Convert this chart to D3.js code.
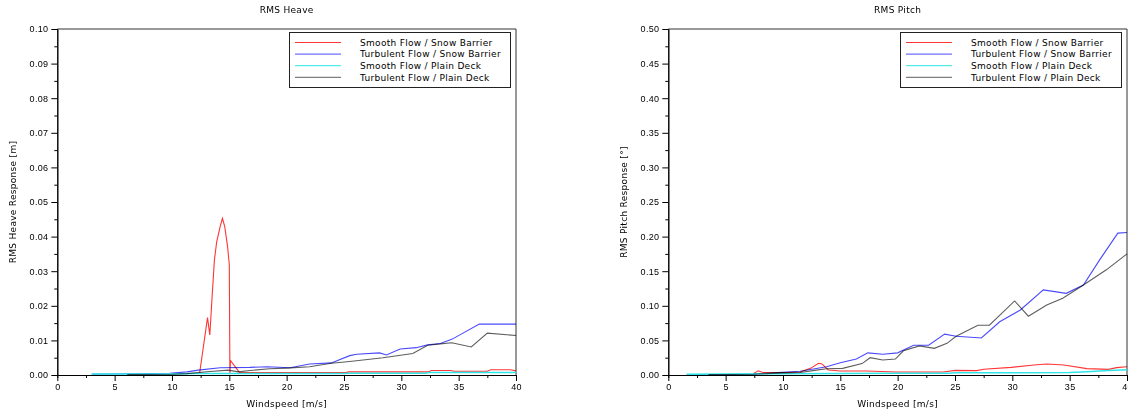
<!DOCTYPE html>
<html>
<head>
<meta charset="utf-8">
<script src="https://cdn.jsdelivr.net/npm/d3@7"></script>
<style>
    body { margin: 0; background: #fff; }
    svg { display: block; font-family: "DejaVu Sans", sans-serif; }
    text { letter-spacing: 0.3px; }
    .domain { stroke: #000; }
    .tick line { stroke: #000; }
    .tick text { font-size: 9px; fill: #000; }
</style>
</head>
<body>
<svg id="graphic"></svg>
<script>

// Series names (legend order)
const seriesNames = [
    "Smooth Flow / Snow Barrier",
    "Turbulent Flow / Snow Barrier",
    "Smooth Flow / Plain Deck",
    "Turbulent Flow / Plain Deck"
]

// x ticks shared by both charts
const xTicks = [0, 5, 10, 15, 20, 25, 30, 35, 40]
const heaveTicks = [0, 0.01, 0.02, 0.03, 0.04, 0.05, 0.06, 0.07, 0.08, 0.09, 0.10]
const pitchTicks = [0, 0.05, 0.10, 0.15, 0.20, 0.25, 0.30, 0.35, 0.40, 0.45, 0.50]

// RMS Heave data [windspeed, response]
const heaveSmoothSnow = [[12.4,0.0003],[13.1,0.0166],[13.3,0.0116],[13.5,0.0226],[13.7,0.0332],[13.9,0.0385],[14.2,0.0429],[14.4,0.0453],[14.6,0.0429],[14.85,0.0371],[15.0,0.0318],[15.05,0.0004],[15.1,0.0042],[15.9,0.0007],[25.2,0.0007],[25.4,0.0009],[32.4,0.0009],[32.6,0.0013],[34.3,0.0013],[34.6,0.0011],[37.5,0.0011],[37.8,0.0015],[39.5,0.0015],[40,0.0012]]
const heaveTurbSnow = [[3,0.0002],[9.8,0.0005],[11.3,0.0009],[12.3,0.0014],[14.2,0.0021],[16.8,0.0022],[18.3,0.0024],[20.3,0.0021],[22,0.0032],[23.9,0.0035],[25.5,0.0056],[26.1,0.006],[28.1,0.0064],[28.7,0.0058],[29.9,0.0075],[31.3,0.0079],[32.3,0.0087],[33.4,0.0091],[34.4,0.0103],[36.8,0.0147],[40,0.0147]]
const heaveSmoothPlain = [[3,0.0003],[10,0.0003],[12,0.0004],[15,0.0004],[25,0.0004],[25.5,0.0005],[32,0.0005],[32.5,0.0007],[40,0.0007]]
const heaveTurbPlain = [[6.1,0.0001],[10,0.0002],[11.3,0.0004],[13.3,0.001],[14.9,0.0014],[15.8,0.0009],[16.8,0.0013],[18.5,0.0018],[20,0.002],[22,0.0024],[23.9,0.0034],[25.5,0.0039],[28.4,0.005],[31,0.0062],[32.3,0.0086],[33.4,0.009],[34.4,0.0093],[36.1,0.0081],[37.5,0.0121],[40,0.0114]]

// RMS Pitch data [windspeed, response]
const pitchSmoothSnow = [[7.4,0.002],[7.85,0.006],[8.3,0.0034],[10.3,0.0034],[11.5,0.0043],[12.4,0.0096],[13.1,0.0169],[13.4,0.016],[13.95,0.0072],[15,0.0058],[17.3,0.0058],[19.9,0.0043],[24,0.0043],[25,0.0067],[26.9,0.0063],[27.5,0.0082],[29.9,0.011],[31.9,0.0145],[33,0.0159],[34.5,0.0145],[36.5,0.0092],[38.4,0.0082],[39.1,0.0106],[40,0.012]]
const pitchTurbSnow = [[1.6,0.0005],[5,0.0008],[7.4,0.0015],[9.5,0.0035],[11.5,0.0055],[13.8,0.012],[15,0.0178],[16.4,0.023],[17.4,0.032],[18.7,0.030],[20,0.032],[21.4,0.043],[22.7,0.043],[24.1,0.059],[25.1,0.056],[27.3,0.0535],[28.9,0.077],[30.7,0.094],[32.7,0.123],[34.7,0.118],[36.2,0.130],[37.6,0.166],[39.2,0.205],[40,0.206]]
const pitchSmoothPlain = [[1.6,0.0012],[5,0.0014],[10,0.0018],[15,0.0022],[20,0.0024],[24.5,0.0026],[25,0.0032],[30,0.0034],[35,0.0037],[36.5,0.0047],[38,0.006],[40,0.0077]]
const pitchTurbPlain = [[3.5,0.0005],[7.4,0.001],[10,0.003],[11.5,0.0037],[12.9,0.007],[13.8,0.009],[15.2,0.0096],[16.9,0.0165],[17.6,0.025],[18.7,0.0217],[19.8,0.023],[20.5,0.035],[21.9,0.042],[23.2,0.0385],[24.3,0.0457],[25.1,0.056],[27.0,0.072],[28.0,0.072],[30.2,0.107],[31.4,0.085],[33.0,0.101],[34.4,0.111],[36.2,0.130],[38.2,0.152],[40,0.175]]

const colors = ["#ff3535", "#4a4aff", "#2ee6e6", "#5e5e5e"]

const w = 1128
const h = 409

const graphic = d3.select("#graphic")
    .attr("width", w)
    .attr("height", h)

drawChart({
    left: 57.3, right: 516, top: 29, bottom: 375,
    title: "RMS Heave",
    yLabel: "RMS Heave Response [m]",
    yMax: 0.10, yTicks: heaveTicks,
    series: [heaveSmoothSnow, heaveTurbSnow, heaveSmoothPlain, heaveTurbPlain]
})

drawChart({
    left: 668.3, right: 1127, top: 29, bottom: 375,
    title: "RMS Pitch",
    yLabel: "RMS Pitch Response [°]",
    yMax: 0.50, yTicks: pitchTicks,
    series: [pitchSmoothSnow, pitchTurbSnow, pitchSmoothPlain, pitchTurbPlain]
})

function drawChart(c){

    const g = graphic.append("g")

    //Scales
    const xScale = d3.scaleLinear().domain([0, 40]).range([c.left, c.right])
    const yScale = d3.scaleLinear().domain([0, c.yMax]).range([c.bottom, c.top])

    //Minor ticks half way between the major ones
    const xMinor = xTicks.slice(1).map((d, i) => (d + xTicks[i]) / 2)
    const yMinor = c.yTicks.slice(1).map((d, i) => (d + c.yTicks[i]) / 2)

    //Top and right frame
    g.append("path")
        .attr("d", `M${c.left},${c.top}H${c.right}V${c.bottom}`)
        .attr("fill", "none")
        .attr("stroke", "#333")

    //Axes
    g.append("g")
        .attr("transform", `translate(0, ${c.bottom})`)
        .call(d3.axisBottom(xScale).tickValues(xMinor).tickSize(3).tickFormat(""))
    g.append("g")
        .attr("transform", `translate(0, ${c.bottom})`)
        .call(d3.axisBottom(xScale).tickValues(xTicks).tickSize(6).tickSizeOuter(0).tickPadding(3).tickFormat(d3.format("d")))

    g.append("g")
        .attr("transform", `translate(${c.left}, 0)`)
        .call(d3.axisLeft(yScale).tickValues(yMinor).tickSize(3).tickFormat(""))
    g.append("g")
        .attr("transform", `translate(${c.left}, 0)`)
        .call(d3.axisLeft(yScale).tickValues(c.yTicks).tickSize(6).tickSizeOuter(0).tickPadding(3).tickFormat(d3.format(".2f")))

    g.selectAll(".domain").attr("stroke", "#000")

    //Lines, drawn over the axes
    const line = d3.line()
        .x(d => xScale(d[0]))
        .y(d => yScale(d[1]))

    c.series.forEach((s, i) => {
        g.append("path")
            .datum(s)
            .attr("d", line)
            .attr("fill", "none")
            .attr("stroke", colors[i])
            .attr("stroke-width", i == 2 ? 1.5 : 1.1)
            .style("mix-blend-mode", i == 2 ? "normal" : "multiply")
    })

    //Title and axis labels
    const cx = (c.left + c.right) / 2
    g.append("text")
        .attr("x", cx).attr("y", 13)
        .attr("text-anchor", "middle")
        .attr("font-size", 9)
        .text(c.title)

    g.append("text")
        .attr("x", cx).attr("y", 407)
        .attr("text-anchor", "middle")
        .attr("font-size", 9)
        .text("Windspeed [m/s]")

    g.append("text")
        .attr("transform", `translate(${c.left - 41}, ${(c.top + c.bottom) / 2}) rotate(-90)`)
        .attr("text-anchor", "middle")
        .attr("font-size", 9)
        .text(c.yLabel)

    //Legend
    const lx = c.right - 227
    const ly = 32
    const legend = g.append("g").attr("transform", `translate(${lx}, ${ly})`)

    legend.append("rect")
        .attr("x", 0.5).attr("y", 0.5)
        .attr("width", 221).attr("height", 55)
        .attr("fill", "#fff")
        .attr("stroke", "#222")

    seriesNames.forEach((name, i) => {
        const y = 10.5 + i * 11.6
        legend.append("line")
            .attr("x1", 6).attr("x2", 52)
            .attr("y1", y).attr("y2", y)
            .attr("stroke", colors[i])
        legend.append("text")
            .attr("x", 71).attr("y", y + 3.3)
            .attr("font-size", 9)
            .text(name)
    })
}

</script>
</body>
</html>
